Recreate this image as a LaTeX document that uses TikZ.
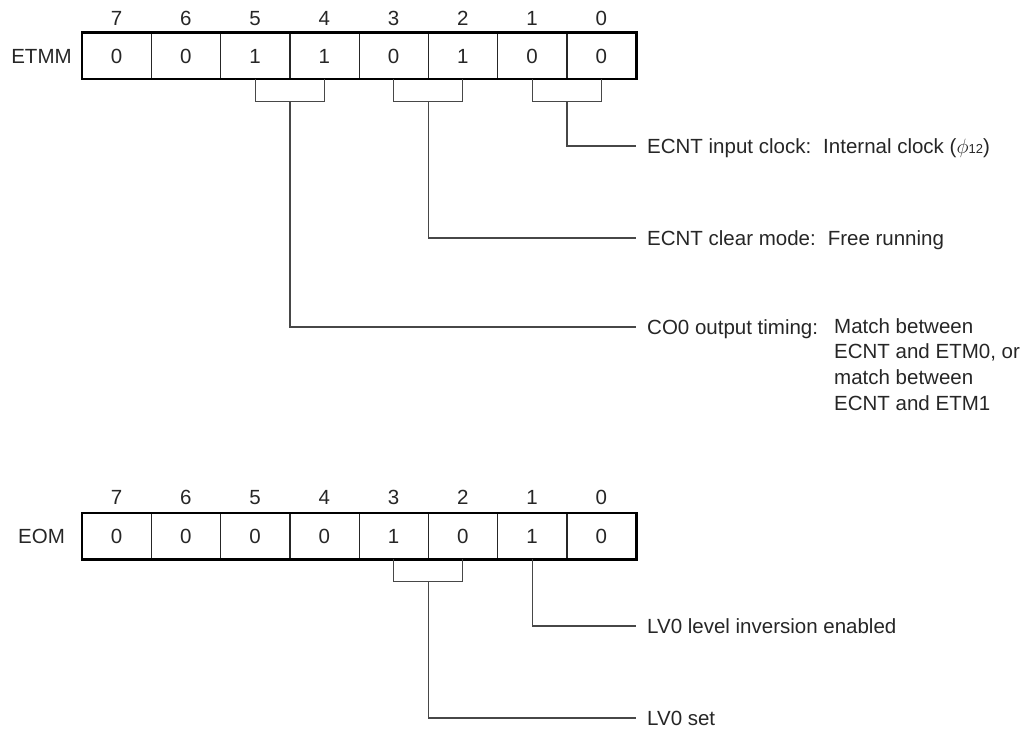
\documentclass[tikz,border=0pt]{standalone}
\usepackage{fontspec}
\setmainfont{Liberation Sans}
\begin{document}
\begin{tikzpicture}[x=1pt,y=-1pt,
  txt/.style={inner sep=0pt, text height=14.5pt, text depth=0pt, font=\fontsize{20.5}{25.7}\selectfont, text=black!85},
  cell/.style={txt, minimum width=69.25pt, minimum height=46pt, anchor=center},
  divider/.style={draw=black!85, line width=1.1pt},
  outer/.style={draw=black, line width=2.6pt},
  conn/.style={draw=black!72, line width=1.1pt},
  lab/.style={txt, anchor=west, inner xsep=11pt},
  multi/.style={inner sep=0pt, font=\fontsize{20.5}{25.7}\selectfont, text=black!85, anchor=base west}]
\useasboundingbox (0,0) rectangle (1034,733);
% ---------- ETMM register ----------
\foreach \v [count=\k from 0] in {0,0,1,1,0,1,0,0} {
  \pgfmathtruncatemacro\b{7-\k}
  \node[cell] (t\b) at ({82+69.25*(\k+0.5)},56) {\v};
  \node[txt] (tn\b) at (t\b |- 0,18) {\b};
}
\foreach \b in {7,...,1} {
  \draw[divider] (t\b.north east) -- (t\b.south east);
}
\draw[outer] (t7.north west) rectangle (t0.south east);
\node[txt] (etmm) at (41.5,56) {ETMM};
% labels
\node[lab] (l1) at (636,146) {ECNT input clock:\hspace{12pt}Internal clock ($\phi${\fontsize{13}{13}\selectfont 12})};
\node[lab] (l2) at (636,238) {ECNT clear mode:\hspace{12pt}Free running};
\node[lab] (l3) at (636,327) {CO0 output timing:};
\node[multi] (l3d) at (834,333) {\begin{tabular}[t]{@{}l@{}}Match between\\ECNT and ETM0, or\\match between\\ECNT and ETM1\end{tabular}};
% brackets
\draw[conn] (t5.south) -- ++(0,22) -| (t4.south);
\draw[conn] (t3.south) -- ++(0,22) -| (t2.south);
\draw[conn] (t1.south) -- ++(0,22) -| (t0.south);
\draw[conn] (t5.south east) ++(0,22) |- (l3.west);
\draw[conn] (t3.south east) ++(0,22) |- (l2.west);
\draw[conn] (t1.south east) ++(0,22) |- (l1.west);
% ---------- EOM register ----------
\foreach \v [count=\k from 0] in {0,0,0,0,1,0,1,0} {
  \pgfmathtruncatemacro\b{7-\k}
  \node[cell] (b\b) at ({82+69.25*(\k+0.5)},536) {\v};
  \node[txt] (bn\b) at (b\b |- 0,497) {\b};
}
\foreach \b in {7,...,1} {
  \draw[divider] (b\b.north east) -- (b\b.south east);
}
\draw[outer] (b7.north west) rectangle (b0.south east);
\node[txt] (eom) at (41.5,536) {EOM};
\node[lab] (m1) at (636,626) {LV0 level inversion enabled};
\node[lab] (m2) at (636,718) {LV0 set};
\draw[conn] (b3.south) -- ++(0,22) -| (b2.south);
\draw[conn] (b3.south east) ++(0,22) |- (m2.west);
\draw[conn] (b1.south) |- (m1.west);
\end{tikzpicture}
\end{document}
